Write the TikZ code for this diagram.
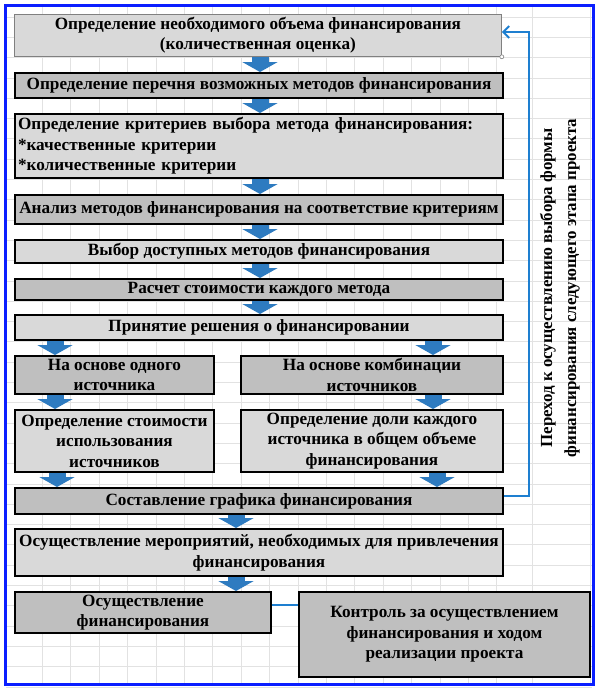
\documentclass[tikz,border=0pt]{standalone}
\usepackage{fontspec}
\setmainfont{Liberation Serif}
\usetikzlibrary{arrows.meta}
\definecolor{lightbox}{HTML}{D9D9D9}
\definecolor{darkbox}{HTML}{BFBFBF}
\definecolor{arrowblue}{HTML}{2E7BC0}
\definecolor{linkblue}{HTML}{1E7FD0}
\definecolor{framblue}{HTML}{0A1EFF}
\definecolor{gridgray}{HTML}{E2E2E2}
\tikzset{
  boxbase/.style={draw=black, line width=2pt, inner sep=0pt, anchor=north west,
    align=center, font=\fontsize{17.2}{20.5}\selectfont\bfseries},
  lbox/.style={boxbase, fill=lightbox},
  dbox/.style={boxbase, fill=darkbox},
  topbox/.style={boxbase, fill=lightbox, draw=gray, line width=0.8pt},
  barrow/.style={draw=arrowblue, line width=17pt, -{Triangle[width=35pt,length=10pt]}},
  fb/.style={draw=linkblue, line width=2pt},
  fbarrow/.style={fb, -{Straight Barb[length=6pt,width=12pt,line width=2pt]}},
}
\begin{document}
\begin{tikzpicture}[x=1pt,y=-1pt]
\useasboundingbox (0,0) rectangle (600,688);
\fill[white] (0,0) rectangle (600,688);
% faint spreadsheet grid
\foreach \k in {1,...,17} {\draw[gridgray, line width=0.8pt] ({14+28.4*\k},6) -- ({14+28.4*\k},683);}
\foreach \xx in {532,590} {\draw[gridgray, line width=0.8pt] (\xx,6) -- (\xx,683);}
\foreach \k in {0,...,33} {\draw[gridgray, line width=0.8pt] (6,{17+20.3*\k}) -- (592,{17+20.3*\k});}
% frame
\draw[framblue, line width=3pt] (5,5) rectangle (593,684);

% boxes
\node[topbox, minimum width=487, minimum height=42] (b1) at (14,14)
  {Определение необходимого объема финансирования\\(количественная оценка)};
\node[dbox, minimum width=488, minimum height=25] (b2) at (14,72)
  {Определение перечня возможных методов финансирования};
\node[lbox, minimum width=488, minimum height=64, align=left, text width=482] (b3) at (14,113)
  {Определение критериев выбора метода финансирования:\\{}*качественные критерии\\{}*количественные критерии};
\node[dbox, minimum width=488, minimum height=29] (b4) at (14,194)
  {Анализ методов финансирования на соответствие критериям};
\node[lbox, minimum width=488, minimum height=23] (b5) at (14,239)
  {Выбор доступных методов финансирования};
\node[dbox, minimum width=488, minimum height=21] (b6) at (14,278)
  {Расчет стоимости каждого метода};
\node[lbox, minimum width=488, minimum height=25] (b7) at (14,314)
  {Принятие решения о финансировании};
\node[dbox, minimum width=199, minimum height=38] (b8a) at (14,355)
  {На основе одного\\источника};
\node[dbox, minimum width=262, minimum height=38] (b8b) at (240,355)
  {На основе комбинации\\источников};
\node[lbox, minimum width=199, minimum height=62] (b9a) at (14,409)
  {Определение стоимости\\использования\\источников};
\node[lbox, minimum width=262, minimum height=62] (b9b) at (240,409)
  {Определение доли каждого\\источника в общем объеме\\финансирования};
\node[dbox, minimum width=488, minimum height=26] (b10) at (14,487)
  {Составление графика финансирования};
\node[lbox, minimum width=488, minimum height=47] (b11) at (14,528)
  {Осуществление мероприятий, необходимых для привлечения\\финансирования};
\node[dbox, minimum width=256, minimum height=41] (b12a) at (14,591)
  {Осуществление\\финансирования};
\node[dbox, minimum width=291, minimum height=85] (b12b) at (298,591)
  {Контроль за осуществлением\\финансирования и ходом\\реализации проекта};

% selection handle
\node[draw=gray, fill=white, circle, inner sep=0pt, minimum size=4pt, line width=0.6pt] (hd) at (b1.south east) {};

% block arrows
\coordinate (cm) at (260,0);
\coordinate (cl) at (55,0);
\coordinate (clb) at (57,0);
\coordinate (cr) at (433,0);
\coordinate (crb) at (437,0);
\coordinate (cb) at (236,0);
\draw[barrow] (b1.south -| cm) -- (b2.north -| cm);
\draw[barrow] (b2.south -| cm) -- (b3.north -| cm);
\draw[barrow] (b3.south -| cm) -- (b4.north -| cm);
\draw[barrow] (b4.south -| cm) -- (b5.north -| cm);
\draw[barrow] (b5.south -| cm) -- (b6.north -| cm);
\draw[barrow] (b6.south -| cm) -- (b7.north -| cm);
\draw[barrow] (b7.south -| cl) -- (b8a.north -| cl);
\draw[barrow] (b7.south -| cr) -- (b8b.north -| cr);
\draw[barrow] (b8a.south -| cl) -- (b9a.north -| cl);
\draw[barrow] (b8b.south -| cr) -- (b9b.north -| cr);
\draw[barrow] (b9a.south -| clb) -- (b10.north -| clb);
\draw[barrow] (b9b.south -| crb) -- (b10.north -| crb);
\draw[barrow] (b10.south -| cb) -- (b11.north -| cb);
\draw[barrow] (b11.south -| cb) -- (b12a.north -| cb);

% feedback loop
\coordinate (fbs) at ([yshift=5pt]b10.east);
\coordinate (fbc) at (529,32);
\draw[fbarrow] (fbs) -| (fbc) -- (b1.east |- fbc);
\node[rotate=90, align=center, font=\fontsize{16.9}{24}\selectfont\bfseries] (fbt) at (560,288)
  {Переход к осуществлению выбора формы\\финансирования следующего этапа проекта};

% link between last boxes
\coordinate (lk) at ([yshift=7.5pt]b12a.east);
\draw[fb] (lk) -- (b12b.west |- lk);
\end{tikzpicture}
\end{document}
